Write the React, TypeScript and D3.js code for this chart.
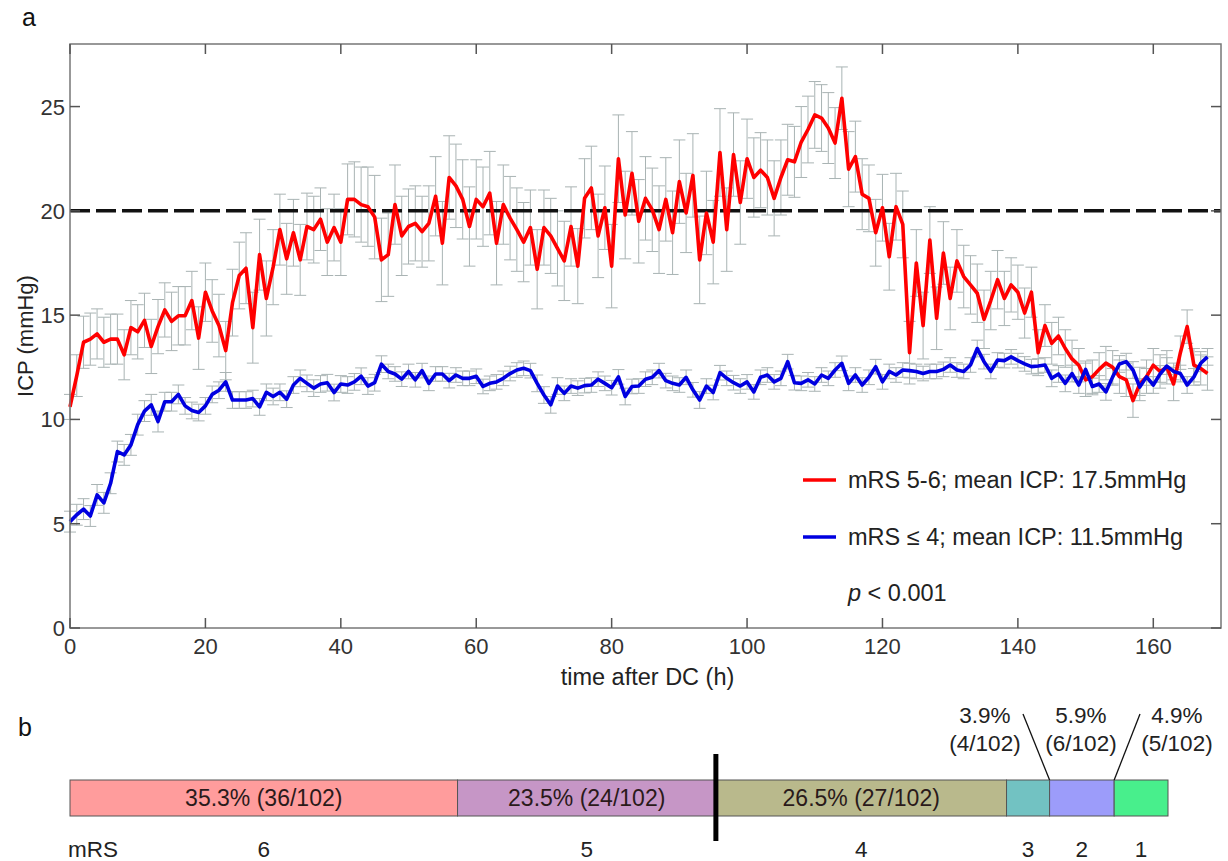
import React from 'react';
import * as d3 from 'd3';

// hourly means (mmHg), hours 0..168
const hours = d3.range(0, 169);

const redMean = [
  10.6, 12.1, 13.7, 13.85, 14.1, 13.7, 13.85, 13.85, 13.1, 14.4,
  14.2, 14.75, 13.5, 14.45, 15.25, 14.7, 14.97, 14.97, 15.7, 13.9,
  16.1, 15.2, 14.5, 13.3, 15.6, 16.9, 17.25, 14.4, 17.9, 15.8,
  17.3, 19.1, 17.7, 18.95, 17.65, 19.25, 19.1, 19.6, 18.5, 19.2,
  18.5, 20.55, 20.55, 20.3, 20.2, 19.7, 17.65, 17.9, 20.3, 18.8,
  19.25, 19.4, 19.0, 19.4, 20.7, 18.45, 21.6, 21.2, 20.55, 19.25,
  20.55, 20.2, 20.85, 18.45, 20.3, 19.65, 19.1, 18.5, 19.2, 17.2,
  19.2, 18.8, 18.2, 17.6, 19.25, 17.35, 20.6, 21.1, 18.8, 20.15,
  17.35, 22.5, 19.8, 21.8, 19.5, 20.6, 20.05, 19.1, 20.55, 18.95,
  21.4, 19.9, 21.7, 17.65, 19.9, 18.5, 22.8, 19.1, 22.7, 20.4,
  22.5, 21.6, 21.95, 21.6, 20.6, 21.6, 22.45, 22.35, 23.3, 23.9,
  24.6, 24.45, 23.97, 23.25, 25.4, 22.0, 22.6, 20.8, 20.6, 18.95,
  20.15, 17.8, 20.2, 19.35, 13.2, 17.5, 14.5, 18.6, 14.85, 17.98,
  15.8, 17.6, 16.85, 16.45, 16.05, 14.8, 15.7, 16.7, 15.8, 16.45,
  16.1, 15.1, 16.1, 13.2, 14.5, 13.65, 14.0, 13.4, 12.9, 12.6,
  11.9, 12.05, 12.4, 12.7, 12.5, 12.05, 11.9, 10.9, 11.7, 12.05,
  12.6, 12.3, 12.5, 11.7, 13.2, 14.45, 12.6, 12.45, 12.2,
];

const redErr = [
  0.6, 1.0, 1.25, 1.25, 1.2, 1.2, 1.2, 1.2, 1.2, 1.3,
  1.3, 1.3, 1.3, 1.3, 1.3, 1.4, 1.4, 1.4, 1.4, 1.5,
  1.4, 1.5, 1.5, 1.4, 1.6, 1.6, 1.7, 1.7, 1.7, 1.8,
  1.8, 1.7, 1.7, 1.6, 1.7, 1.6, 1.6, 1.5, 1.6, 1.6,
  1.6, 1.7, 1.8, 1.8, 1.9, 2.0, 2.0, 2.0, 1.9, 1.9,
  1.8, 1.8, 1.7, 1.8, 1.9, 2.0, 2.0, 2.0, 1.9, 1.9,
  1.9, 1.9, 2.0, 2.0, 1.9, 2.0, 2.0, 1.9, 1.8, 1.9,
  1.8, 1.8, 1.8, 1.9, 1.9, 1.8, 1.9, 2.0, 2.0, 2.0,
  2.0, 2.1, 2.1, 2.0, 2.0, 2.0, 2.0, 2.1, 2.0, 2.0,
  2.0, 1.9, 2.0, 2.1, 2.0, 2.0, 2.1, 2.0, 2.0, 2.0,
  1.9, 1.9, 1.8, 1.8, 1.8, 1.8, 1.7, 1.7, 1.7, 1.6,
  1.6, 1.6, 1.7, 1.7, 1.5, 1.8, 1.7, 1.7, 1.6, 1.6,
  1.6, 1.6, 1.6, 1.6, 1.5, 1.6, 1.6, 1.6, 1.5, 1.5,
  1.5, 1.5, 1.5, 1.4, 1.4, 1.4, 1.4, 1.4, 1.3, 1.3,
  1.3, 1.2, 1.2, 1.1, 1.0, 1.0, 0.9, 0.9, 0.9, 0.8,
  0.8, 0.8, 0.8, 0.8, 0.8, 0.8, 0.8, 0.8, 0.8, 0.8,
  0.8, 0.8, 0.8, 0.8, 0.8, 0.8, 0.8, 0.8, 0.8,
];

const blueMean = [
  5.1, 5.43, 5.7, 5.37, 6.38, 6.0, 6.94, 8.46, 8.3, 8.78,
  9.75, 10.4, 10.7, 9.9, 10.85, 10.85, 11.2, 10.65, 10.43, 10.33,
  10.65, 11.2, 11.4, 11.8, 10.93, 10.93, 10.93, 11.0, 10.6, 11.3,
  11.1, 11.3, 10.97, 11.65, 11.97, 11.73, 11.5, 11.7, 11.76, 11.29,
  11.7, 11.65, 11.8, 12.07, 11.6, 11.76, 12.65, 12.3, 12.18, 11.93,
  12.3, 11.9, 12.34, 11.73, 12.18, 12.18, 11.86, 12.13, 11.97, 11.97,
  12.07, 11.58, 11.73, 11.8, 11.97, 12.2, 12.37, 12.45, 12.34, 11.73,
  11.17, 10.7, 11.6, 11.25, 11.6, 11.5, 11.62, 11.65, 11.93, 11.73,
  11.52, 12.04, 11.1, 11.58, 11.6, 11.93, 12.02, 12.34, 11.86, 11.73,
  11.65, 12.02, 11.42, 10.93, 11.6, 11.29, 12.24, 11.97, 11.76, 11.6,
  11.8, 11.32, 12.02, 12.13, 11.8, 11.97, 12.77, 11.76, 11.73, 11.9,
  11.7, 12.13, 11.97, 12.37, 12.69, 11.73, 12.13, 11.65, 12.02, 12.53,
  11.8, 12.3, 12.13, 12.37, 12.34, 12.3, 12.2, 12.3, 12.3, 12.4,
  12.61, 12.37, 12.3, 12.61, 13.4, 12.77, 12.3, 12.85, 12.82, 13.0,
  12.82, 12.66, 12.53, 12.56, 12.61, 11.97, 12.18, 11.73, 12.2, 11.65,
  12.4, 11.58, 11.7, 11.32, 12.04, 12.66, 12.77, 12.37, 11.55, 12.04,
  11.65, 12.18, 12.56, 12.3, 12.2, 11.65, 12.04, 12.69, 13.0,
];

const blueErr = [
  0.5, 0.5, 0.5, 0.5, 0.5, 0.5, 0.5, 0.5, 0.5, 0.5,
  0.5, 0.5, 0.5, 0.5, 0.45, 0.45, 0.45, 0.4, 0.4, 0.4,
  0.4, 0.4, 0.4, 0.45, 0.4, 0.4, 0.4, 0.4, 0.4, 0.4,
  0.4, 0.4, 0.4, 0.4, 0.4, 0.4, 0.4, 0.4, 0.4, 0.4,
  0.4, 0.4, 0.4, 0.4, 0.4, 0.4, 0.4, 0.35, 0.35, 0.35,
  0.35, 0.35, 0.35, 0.35, 0.35, 0.35, 0.35, 0.35, 0.35, 0.35,
  0.35, 0.35, 0.35, 0.35, 0.35, 0.35, 0.35, 0.35, 0.35, 0.4,
  0.4, 0.4, 0.4, 0.35, 0.35, 0.35, 0.35, 0.35, 0.35, 0.35,
  0.35, 0.35, 0.4, 0.35, 0.35, 0.35, 0.35, 0.35, 0.35, 0.35,
  0.35, 0.35, 0.35, 0.4, 0.35, 0.35, 0.35, 0.35, 0.35, 0.35,
  0.35, 0.35, 0.35, 0.35, 0.35, 0.35, 0.35, 0.35, 0.35, 0.35,
  0.35, 0.35, 0.35, 0.35, 0.35, 0.35, 0.35, 0.35, 0.35, 0.35,
  0.35, 0.35, 0.35, 0.35, 0.35, 0.35, 0.35, 0.35, 0.35, 0.35,
  0.35, 0.35, 0.35, 0.35, 0.4, 0.35, 0.35, 0.35, 0.35, 0.35,
  0.35, 0.35, 0.35, 0.35, 0.35, 0.4, 0.4, 0.4, 0.4, 0.4,
  0.4, 0.4, 0.4, 0.4, 0.4, 0.4, 0.4, 0.4, 0.4, 0.4,
  0.4, 0.4, 0.4, 0.4, 0.4, 0.4, 0.4, 0.4, 0.4,
];

const xTicks = [0, 20, 40, 60, 80, 100, 120, 140, 160];
const yTicks = [0, 5, 10, 15, 20, 25];
const threshold = 20;

// panel b: mRS distribution
const mrsScores = ['6', '5', '4', '3', '2', '1'];
const mrsCounts = [36, 24, 27, 4, 6, 5];
const mrsPercent = ['35.3%', '23.5%', '26.5%', '3.9%', '5.9%', '4.9%'];
const mrsColors = ['#ff9c9c', '#c696c6', '#b9b98c', '#72c2c2', '#9c9cfa', '#48ef8c'];
const total = 102;

const FONT = '"Liberation Sans", Arial, Helvetica, sans-serif';

export default function App() {
  const x = d3.scaleLinear().domain([0, 170]).range([70, 1221]);
  const y = d3.scaleLinear().domain([0, 28]).range([628, 44]);
  const [x0, x1] = x.range();
  const [yb, yt] = y.range();

  const line = d3.line<number>().x((_, i) => x(hours[i])).y(d => y(d));

  const errBars = (means: number[], errs: number[], key: string) =>
    means.map((m, i) => {
      const cx = x(hours[i]);
      const hi = y(m + errs[i]);
      const lo = y(m - errs[i]);
      return (
        <g key={key + i}>
          <line x1={cx} x2={cx} y1={hi} y2={lo} />
          <line x1={cx - 6} x2={cx + 6} y1={hi} y2={hi} />
          <line x1={cx - 6} x2={cx + 6} y1={lo} y2={lo} />
        </g>
      );
    });

  // panel b
  const xb = d3.scaleLinear().domain([0, total]).range([70, 1168]);
  const cum = d3.cumsum(mrsCounts);
  const starts = mrsCounts.map((c, i) => cum[i] - c);
  const barTop = 780;
  const barH = 36;

  return (
    <div>
      <style>{'body{margin:0}'}</style>
      <svg width={1228} height={861} style={{ display: 'block', background: '#fff' }} fontFamily={FONT}>
        <text x={22} y={26} fontSize={25} fill="#111">a</text>

        {/* error bars */}
        <g stroke="#95a2a2" strokeWidth={1} opacity={0.8}>
          {errBars(redMean, redErr, 'r')}
          {errBars(blueMean, blueErr, 'b')}
        </g>

        {/* threshold */}
        <line x1={x0} x2={x1} y1={y(threshold)} y2={y(threshold)} stroke="#111" strokeWidth={3.5} strokeDasharray="20 6" />

        <path d={line(redMean) ?? ''} fill="none" stroke="#ff0000" strokeWidth={3.6} strokeLinejoin="round" />
        <path d={line(blueMean) ?? ''} fill="none" stroke="#0000e0" strokeWidth={3.6} strokeLinejoin="round" />

        {/* frame + inward ticks */}
        <rect x={x0} y={yt} width={x1 - x0} height={yb - yt} fill="none" stroke="#777" strokeWidth={1.5} />
        <g stroke="#555" strokeWidth={1.5}>
          {xTicks.map(t => (
            <g key={'xt' + t}>
              <line x1={x(t)} x2={x(t)} y1={yb} y2={yb - 10} />
              <line x1={x(t)} x2={x(t)} y1={yt} y2={yt + 10} />
            </g>
          ))}
          {yTicks.map(t => (
            <g key={'yt' + t}>
              <line x1={x0} x2={x0 + 10} y1={y(t)} y2={y(t)} />
              <line x1={x1} x2={x1 - 10} y1={y(t)} y2={y(t)} />
            </g>
          ))}
        </g>
        <g fontSize={22} fill="#333">
          {xTicks.map(t => (
            <text key={'xl' + t} x={x(t)} y={yb + 26} textAnchor="middle">{t}</text>
          ))}
          {yTicks.map(t => (
            <text key={'yl' + t} x={x0 - 5} y={y(t) + 8} textAnchor="end">{t}</text>
          ))}
        </g>
        <text x={(x0 + x1) / 2 + 2} y={685} textAnchor="middle" fontSize={23.5} fill="#222">time after DC (h)</text>
        <text transform={`translate(33,${(yb + yt) / 2}) rotate(-90)`} textAnchor="middle" fontSize={22} fill="#222">ICP (mmHg)</text>

        {/* legend */}
        <line x1={803} x2={836} y1={480} y2={480} stroke="#ff0000" strokeWidth={3.5} />
        <text x={848} y={488} fontSize={23.5} fill="#222">mRS 5-6; mean ICP: 17.5mmHg</text>
        <line x1={803} x2={836} y1={537} y2={537} stroke="#0000e0" strokeWidth={3.5} />
        <text x={848} y={545} fontSize={23.5} fill="#222">mRS ≤ 4; mean ICP: 11.5mmHg</text>
        <text x={848} y={601} fontSize={23.5} fill="#222"><tspan fontStyle="italic">p</tspan> &lt; 0.001</text>

        {/* panel b */}
        <text x={18} y={736} fontSize={25} fill="#111">b</text>
        {mrsCounts.map((c, i) => (
          <rect key={'seg' + i} x={xb(starts[i])} y={barTop} width={xb(cum[i]) - xb(starts[i])} height={barH}
            fill={mrsColors[i]} stroke="#555" strokeWidth={1} />
        ))}
        {mrsCounts.map((c, i) => i < 3 ? (
          <text key={'pl' + i} x={(xb(starts[i]) + xb(cum[i])) / 2} y={barTop + 26} textAnchor="middle" fontSize={23} fill="#2a1a1a">
            {`${mrsPercent[i]} (${c}/${total})`}
          </text>
        ) : null)}
        <line x1={xb(cum[1])} x2={xb(cum[1])} y1={754} y2={841} stroke="#000" strokeWidth={5} />
        <text x={68} y={857} fontSize={22.5} fill="#222">mRS</text>
        {mrsScores.map((s, i) => (
          <text key={'sc' + i} x={(xb(starts[i]) + xb(cum[i])) / 2} y={857} textAnchor="middle" fontSize={22.5} fill="#222">{s}</text>
        ))}
        {/* small-segment callouts */}
        {[
          { i: 3, cx: 985, lx: 1023 },
          { i: 4, cx: 1081, lx: null },
          { i: 5, cx: 1177, lx: 1140 },
        ].map(({ i, cx, lx }) => (
          <g key={'co' + i}>
            <text x={cx} y={723} textAnchor="middle" fontSize={22.5} fill="#222">{mrsPercent[i]}</text>
            <text x={cx} y={751} textAnchor="middle" fontSize={22.5} fill="#222">{`(${mrsCounts[i]}/${total})`}</text>
            {lx !== null && (
              <line x1={lx} y1={714} x2={i === 3 ? xb(starts[4]) : xb(starts[5])} y2={barTop} stroke="#111" strokeWidth={1.3} />
            )}
          </g>
        ))}
      </svg>
    </div>
  );
}
